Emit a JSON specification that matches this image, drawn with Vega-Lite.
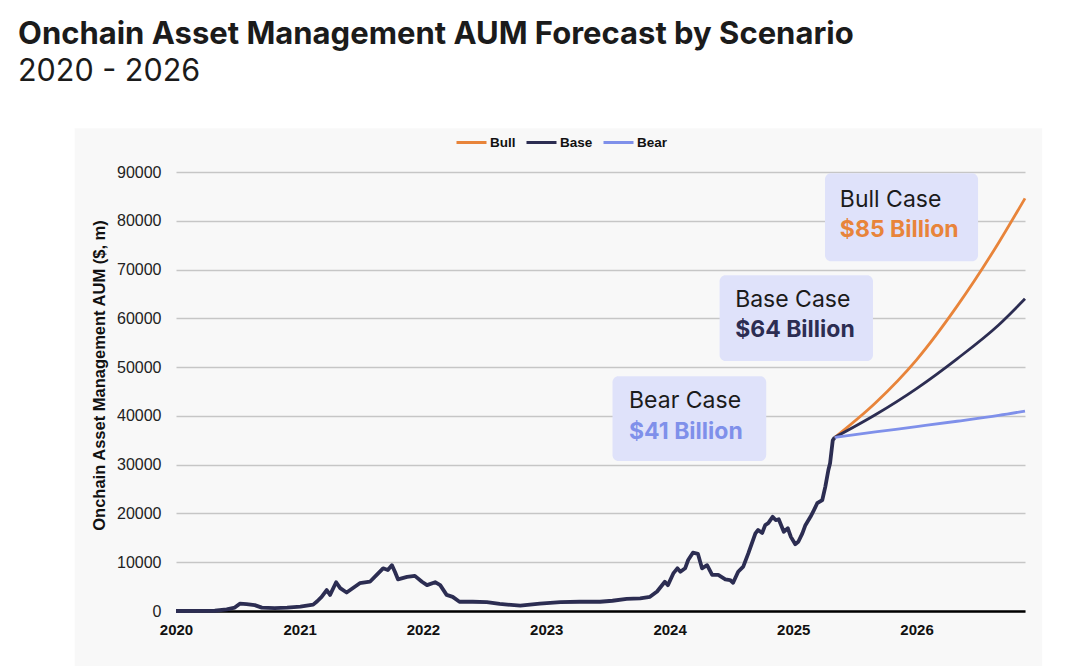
{
  "$schema": "https://vega.github.io/schema/vega-lite/v6.json",
  "autosize": {"type": "none"},
  "width": 849,
  "height": 439,
  "padding": {"left": 176, "top": 172, "right": 55, "bottom": 55},
  "background": "#f8f8f8",
  "title": {
    "text": "Onchain Asset Management AUM Forecast by Scenario",
    "subtitle": "2020 - 2026",
    "anchor": "start",
    "frame": "group",
    "dx": -158,
    "offset": -92,
    "font": "Inter",
    "fontSize": 31,
    "fontWeight": 700,
    "color": "#1b1b1b",
    "subtitleFont": "Inter",
    "subtitleFontSize": 30.5,
    "subtitleFontWeight": 400,
    "subtitleColor": "#1b1b1b",
    "subtitlePadding": 6
  },
  "config": {
    "view": {"stroke": null}
  },
  "datasets": {
    "history": [
      {"date": "2020-01-01", "aum": 0},
      {"date": "2020-04-25", "aum": 50},
      {"date": "2020-05-30", "aum": 350},
      {"date": "2020-06-23", "aum": 700},
      {"date": "2020-07-08", "aum": 1500},
      {"date": "2020-07-28", "aum": 1400},
      {"date": "2020-08-21", "aum": 1200},
      {"date": "2020-09-11", "aum": 700},
      {"date": "2020-10-19", "aum": 600},
      {"date": "2020-11-25", "aum": 700},
      {"date": "2021-01-03", "aum": 900},
      {"date": "2021-02-10", "aum": 1300},
      {"date": "2021-02-22", "aum": 2000},
      {"date": "2021-03-07", "aum": 2900},
      {"date": "2021-03-22", "aum": 4300},
      {"date": "2021-04-01", "aum": 3300},
      {"date": "2021-04-19", "aum": 5900},
      {"date": "2021-05-01", "aum": 4700},
      {"date": "2021-05-20", "aum": 3800},
      {"date": "2021-06-28", "aum": 5700},
      {"date": "2021-07-28", "aum": 6000},
      {"date": "2021-08-17", "aum": 7400},
      {"date": "2021-09-05", "aum": 8750},
      {"date": "2021-09-19", "aum": 8400},
      {"date": "2021-10-01", "aum": 9400},
      {"date": "2021-10-10", "aum": 8050},
      {"date": "2021-10-19", "aum": 6500},
      {"date": "2021-11-15", "aum": 7000},
      {"date": "2021-12-08", "aum": 7200},
      {"date": "2021-12-29", "aum": 6000},
      {"date": "2022-01-13", "aum": 5300},
      {"date": "2022-02-06", "aum": 5900},
      {"date": "2022-02-21", "aum": 5300},
      {"date": "2022-03-12", "aum": 3300},
      {"date": "2022-03-30", "aum": 2900},
      {"date": "2022-04-19", "aum": 1900},
      {"date": "2022-05-28", "aum": 1900},
      {"date": "2022-07-09", "aum": 1800},
      {"date": "2022-08-16", "aum": 1450},
      {"date": "2022-10-16", "aum": 1100},
      {"date": "2022-12-13", "aum": 1500},
      {"date": "2023-02-12", "aum": 1800},
      {"date": "2023-04-10", "aum": 1900},
      {"date": "2023-06-09", "aum": 1900},
      {"date": "2023-07-16", "aum": 2100},
      {"date": "2023-08-27", "aum": 2500},
      {"date": "2023-10-06", "aum": 2600},
      {"date": "2023-11-04", "aum": 2900},
      {"date": "2023-11-25", "aum": 4000},
      {"date": "2023-12-18", "aum": 6000},
      {"date": "2023-12-27", "aum": 5300},
      {"date": "2024-01-12", "aum": 7700},
      {"date": "2024-01-24", "aum": 8750},
      {"date": "2024-02-02", "aum": 8050},
      {"date": "2024-02-16", "aum": 8750},
      {"date": "2024-02-25", "aum": 10450},
      {"date": "2024-03-10", "aum": 11950},
      {"date": "2024-03-25", "aum": 11700},
      {"date": "2024-04-06", "aum": 8750},
      {"date": "2024-04-21", "aum": 9400},
      {"date": "2024-05-06", "aum": 7400},
      {"date": "2024-05-24", "aum": 7400},
      {"date": "2024-06-14", "aum": 6500},
      {"date": "2024-06-28", "aum": 6350},
      {"date": "2024-07-07", "aum": 5800},
      {"date": "2024-07-22", "aum": 8050},
      {"date": "2024-08-06", "aum": 9100},
      {"date": "2024-08-21", "aum": 11800},
      {"date": "2024-09-11", "aum": 15900},
      {"date": "2024-09-19", "aum": 16600},
      {"date": "2024-10-01", "aum": 16000},
      {"date": "2024-10-10", "aum": 17600},
      {"date": "2024-10-19", "aum": 18000},
      {"date": "2024-11-01", "aum": 19300},
      {"date": "2024-11-10", "aum": 18650},
      {"date": "2024-11-19", "aum": 18800},
      {"date": "2024-12-04", "aum": 16250},
      {"date": "2024-12-16", "aum": 16950},
      {"date": "2024-12-25", "aum": 15200},
      {"date": "2025-01-07", "aum": 13700},
      {"date": "2025-01-16", "aum": 14200},
      {"date": "2025-01-28", "aum": 15900},
      {"date": "2025-02-06", "aum": 17600},
      {"date": "2025-02-21", "aum": 19300},
      {"date": "2025-03-01", "aum": 20350},
      {"date": "2025-03-13", "aum": 22100},
      {"date": "2025-03-28", "aum": 22750},
      {"date": "2025-04-06", "aum": 25500},
      {"date": "2025-04-15", "aum": 28900},
      {"date": "2025-04-20", "aum": 30300},
      {"date": "2025-04-28", "aum": 35000},
      {"date": "2025-05-04", "aum": 35600}
    ],
    "forecast": [
      {"scenario": "Bull", "date": "2025-05-04", "aum": 35600},
      {"scenario": "Bull", "date": "2025-09-01", "aum": 42650},
      {"scenario": "Bull", "date": "2026-01-01", "aum": 51500},
      {"scenario": "Bull", "date": "2026-05-01", "aum": 62500},
      {"scenario": "Bull", "date": "2026-09-01", "aum": 75500},
      {"scenario": "Bull", "date": "2026-11-18", "aum": 84600},
      {"scenario": "Base", "date": "2025-05-04", "aum": 35600},
      {"scenario": "Base", "date": "2025-09-01", "aum": 40230},
      {"scenario": "Base", "date": "2026-01-01", "aum": 45600},
      {"scenario": "Base", "date": "2026-05-01", "aum": 51700},
      {"scenario": "Base", "date": "2026-09-01", "aum": 58630},
      {"scenario": "Base", "date": "2026-11-18", "aum": 64000},
      {"scenario": "Bear", "date": "2025-05-04", "aum": 35600},
      {"scenario": "Bear", "date": "2025-09-01", "aum": 36700},
      {"scenario": "Bear", "date": "2026-01-01", "aum": 37800},
      {"scenario": "Bear", "date": "2026-05-01", "aum": 38900},
      {"scenario": "Bear", "date": "2026-09-01", "aum": 40100},
      {"scenario": "Bear", "date": "2026-11-18", "aum": 41000}
    ],
    "notes": [
      {"scenario": "Bull", "case": "Bull Case", "amount": "$85 Billion", "from": "2025-04-05", "to": "2026-07-02", "top": 89750, "bottom": 71700, "tx": "2025-05-19", "ty1": 84200, "ty2": 78070},
      {"scenario": "Base", "case": "Base Case", "amount": "$64 Billion", "from": "2024-05-28", "to": "2025-08-25", "top": 68850, "bottom": 51230, "tx": "2024-07-13", "ty1": 63720, "ty2": 57580},
      {"scenario": "Bear", "case": "Bear Case", "amount": "$41 Billion", "from": "2023-07-16", "to": "2024-10-13", "top": 48150, "bottom": 30740, "tx": "2023-09-03", "ty1": 43030, "ty2": 36680}
    ]
  },
  "layer": [
    {
      "data": {"values": [{}]},
      "mark": {"type": "rect", "fill": "#ffffff", "clip": false},
      "encoding": {
        "x": {
          "datum": {"year": 2018, "month": 7, "date": 1, "utc": true},
          "type": "temporal",
          "scale": {
            "type": "utc",
            "domain": [
              {"year": 2020, "month": 1, "date": 1, "utc": true},
              {"year": 2026, "month": 11, "date": 18, "utc": true}
            ]
          },
          "axis": {
            "title": null,
            "format": "%Y",
            "tickCount": "year",
            "grid": false,
            "ticks": false,
            "domain": true,
            "domainColor": "#000000",
            "domainWidth": 2.5,
            "labelFont": "Liberation Sans",
            "labelFontSize": 15,
            "labelFontWeight": "bold",
            "labelColor": "#111111",
            "labelPadding": 11,
            "labelFlush": false
          }
        },
        "x2": {"datum": {"year": 2027, "month": 6, "date": 1, "utc": true}},
        "y": {
          "datum": 98970,
          "type": "quantitative",
          "scale": {"domain": [0, 90000], "nice": false, "zero": true},
          "axis": {
            "title": "Onchain Asset Management AUM ($, m)",
            "titleFont": "Liberation Sans",
            "titleFontSize": 16.5,
            "titleFontWeight": "bold",
            "titleColor": "#111111",
            "titlePadding": 9,
            "titleY": 203,
            "values": [0, 10000, 20000, 30000, 40000, 50000, 60000, 70000, 80000, 90000],
            "format": "d",
            "grid": true,
            "gridColor": "#c6c6c6",
            "gridWidth": 1.3,
            "domain": false,
            "ticks": false,
            "labelFont": "Liberation Sans",
            "labelFontSize": 16,
            "labelColor": "#222222",
            "labelPadding": 15
          }
        },
        "y2": {"datum": 126000}
      }
    },
    {
      "data": {"values": [{}]},
      "mark": {"type": "rect", "fill": "#ffffff", "clip": false},
      "encoding": {
        "x": {"datum": {"year": 2018, "month": 7, "date": 1, "utc": true}, "type": "temporal"},
        "x2": {"datum": {"year": 2019, "month": 3, "date": 7, "utc": true}},
        "y": {"datum": -12000, "type": "quantitative"},
        "y2": {"datum": 126000}
      }
    },
    {
      "data": {"values": [{}]},
      "mark": {"type": "rect", "fill": "#ffffff", "clip": false},
      "encoding": {
        "x": {"datum": {"year": 2027, "month": 1, "date": 8, "utc": true}, "type": "temporal"},
        "x2": {"datum": {"year": 2027, "month": 6, "date": 1, "utc": true}},
        "y": {"datum": -12000, "type": "quantitative"},
        "y2": {"datum": 126000}
      }
    },
    {
      "data": {"name": "notes"},
      "mark": {"type": "rect", "fill": "#dfe2fa", "cornerRadius": 6},
      "encoding": {
        "x": {"field": "from", "type": "temporal"},
        "x2": {"field": "to"},
        "y": {"field": "top", "type": "quantitative"},
        "y2": {"field": "bottom"}
      }
    },
    {
      "data": {"name": "history"},
      "mark": {"type": "line", "color": "#2c2d52", "strokeWidth": 3.8, "strokeJoin": "round"},
      "encoding": {
        "x": {"field": "date", "type": "temporal"},
        "y": {"field": "aum", "type": "quantitative"}
      }
    },
    {
      "data": {"name": "forecast"},
      "mark": {"type": "line", "strokeWidth": 2.8, "interpolate": "monotone"},
      "encoding": {
        "x": {"field": "date", "type": "temporal"},
        "y": {"field": "aum", "type": "quantitative"},
        "color": {
          "field": "scenario",
          "type": "nominal",
          "scale": {"domain": ["Bull", "Base", "Bear"], "range": ["#e8843a", "#2c2d52", "#7f90ea"]},
          "legend": {
            "orient": "none",
            "legendX": 279,
            "legendY": -46,
            "direction": "horizontal",
            "title": null,
            "symbolType": "stroke",
            "symbolSize": 900,
            "symbolStrokeWidth": 3,
            "labelFont": "Liberation Sans",
            "labelFontSize": 13.5,
            "labelFontWeight": "bold",
            "labelColor": "#111111",
            "columnPadding": 4,
            "labelOffset": 2
          }
        }
      }
    },
    {
      "data": {"name": "notes"},
      "mark": {"type": "text", "align": "left", "baseline": "middle", "font": "Inter", "fontSize": 23, "fontWeight": 400, "color": "#1b1b1b"},
      "encoding": {
        "x": {"field": "tx", "type": "temporal"},
        "y": {"field": "ty1", "type": "quantitative"},
        "text": {"field": "case"}
      }
    },
    {
      "data": {"name": "notes"},
      "mark": {"type": "text", "align": "left", "baseline": "middle", "font": "Inter", "fontSize": 23, "fontWeight": 700},
      "encoding": {
        "x": {"field": "tx", "type": "temporal"},
        "y": {"field": "ty2", "type": "quantitative"},
        "text": {"field": "amount"},
        "color": {"field": "scenario", "type": "nominal", "legend": null}
      }
    }
  ]
}
